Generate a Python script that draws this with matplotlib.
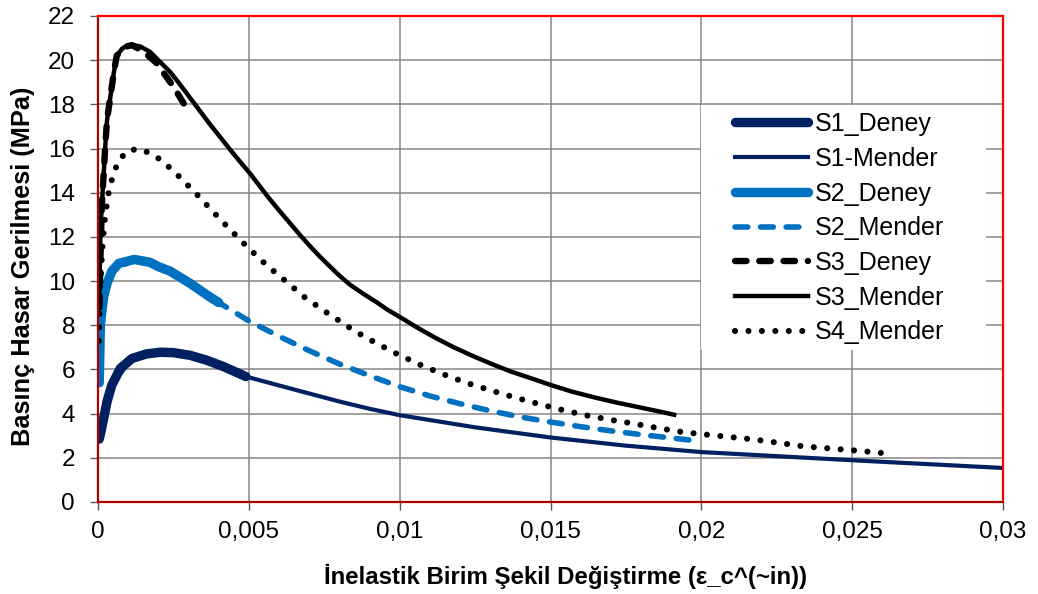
import numpy as np
import matplotlib
matplotlib.use('Agg')
import matplotlib.pyplot as plt
from matplotlib.patches import Rectangle
from matplotlib.ticker import FuncFormatter

plt.rcParams['font.family'] = ['Liberation Sans', 'DejaVu Sans']

# values
s1_deney_x = [0.00004, 0.0001, 0.00019, 0.0003, 0.00046, 0.00074, 0.00113, 0.0016,
              0.00206, 0.0025, 0.00305, 0.0036, 0.00416, 0.0049]
s1_deney_y = [2.85, 3.2, 3.8, 4.55, 5.3, 6.05, 6.5, 6.7, 6.78, 6.76, 6.64, 6.42, 6.13, 5.68]

s1_mender_x = [0.00004, 0.00019, 0.00046, 0.00113, 0.00206, 0.00305, 0.00416, 0.0049,
               0.00637, 0.008, 0.009, 0.01, 0.0125, 0.015, 0.0175, 0.02, 0.025, 0.03]
s1_mender_y = [2.85, 3.8, 5.3, 6.5, 6.78, 6.64, 6.13, 5.68, 5.14, 4.55, 4.22, 3.93, 3.38,
               2.92, 2.55, 2.26, 1.89, 1.54]

s2_deney_x = [0.00004, 0.00008, 0.00019, 0.0003, 0.00046, 0.00069, 0.0012, 0.00172,
              0.00201, 0.00239, 0.00305, 0.00371, 0.004]
s2_deney_y = [5.4, 8.1, 9.3, 9.9, 10.45, 10.8, 10.98, 10.85, 10.65, 10.45, 9.9, 9.28, 9.03]

s2_mender_x = [0.00004, 0.00019, 0.00046, 0.0012, 0.00201, 0.00305, 0.004, 0.005, 0.006,
               0.007, 0.008, 0.009, 0.01, 0.011, 0.012, 0.013, 0.014, 0.015, 0.016,
               0.017, 0.018, 0.019, 0.0199]
s2_mender_y = [5.4, 9.3, 10.45, 10.98, 10.65, 9.9, 9.03, 8.2, 7.5, 6.85, 6.25, 5.72, 5.22,
               4.8, 4.45, 4.13, 3.85, 3.62, 3.41, 3.22, 3.05, 2.9, 2.76]

s3_deney_x = [0.00005, 0.00008, 0.00013, 0.00019, 0.00024, 0.0003, 0.00041, 0.00052,
              0.00062, 0.0009, 0.00113, 0.0015, 0.00195, 0.0025, 0.00294]
s3_deney_y = [8.8, 11.0, 13.5, 14.9, 16.1, 17.3, 18.35, 19.4, 20.2, 20.6, 20.68, 20.4,
              19.86, 18.8, 17.82]

s3_mender_x = [0.00004, 0.00008, 0.00013, 0.00019, 0.00024, 0.0003, 0.00041, 0.00052,
               0.00062, 0.0008, 0.00098, 0.00113, 0.0014, 0.00172, 0.002, 0.00239,
               0.00272, 0.00305, 0.00338, 0.00371, 0.00405, 0.00438, 0.0047, 0.00504,
               0.00537, 0.0057, 0.00604, 0.00637, 0.0067, 0.00703, 0.00736, 0.00769,
               0.008, 0.00836, 0.0088, 0.00924, 0.0096, 0.01, 0.0106, 0.0112, 0.0118,
               0.01244, 0.0131, 0.0137, 0.0144, 0.015, 0.0157, 0.0165, 0.0172, 0.018,
               0.0186, 0.0191]
s3_mender_y = [9.0, 12.3, 13.5, 14.87, 16.08, 17.29, 18.34, 19.4, 20.2, 20.52, 20.68,
               20.7, 20.62, 20.38, 20.0, 19.47, 18.9, 18.3, 17.7, 17.1, 16.52, 15.95,
               15.42, 14.87, 14.28, 13.7, 13.14, 12.61, 12.08, 11.58, 11.1, 10.66,
               10.25, 9.83, 9.42, 9.04, 8.7, 8.38, 7.88, 7.42, 7.0, 6.6, 6.22, 5.9, 5.58,
               5.3, 5.0, 4.72, 4.5, 4.27, 4.1, 3.95]

s4_mender_x = [0.00003, 0.00007, 0.00016, 0.00024, 0.00035, 0.00044, 0.00055, 0.00074,
               0.00102, 0.0014, 0.00179, 0.00214, 0.00274, 0.0033, 0.00387, 0.00443,
               0.005, 0.00559, 0.00621, 0.00684, 0.0075, 0.00819, 0.00852, 0.00925,
               0.00996, 0.0107, 0.01145, 0.0122, 0.013, 0.0138, 0.01455, 0.01535,
               0.01615, 0.01695, 0.01775, 0.01855, 0.01935, 0.02016, 0.02175, 0.02339,
               0.02502, 0.02624]
s4_mender_y = [7.3, 9.7, 11.85, 13.0, 13.97, 14.49, 15.02, 15.55, 15.93, 15.97, 15.75,
               15.43, 14.67, 13.89, 13.06, 12.26, 11.48, 10.72, 10.01, 9.28, 8.65, 8.03,
               7.73, 7.17, 6.67, 6.2, 5.78, 5.4, 5.06, 4.74, 4.46, 4.18, 3.93, 3.73, 3.55,
               3.35, 3.17, 3.05, 2.83, 2.52, 2.34, 2.19]

x_ticks = [0, 0.005, 0.01, 0.015, 0.02, 0.025, 0.03]
y_ticks = [0, 2, 4, 6, 8, 10, 12, 14, 16, 18, 20, 22]

NAVY = '#002060'
BLUE = '#0070C0'

fig = plt.figure(figsize=(10.38, 5.94), dpi=100)
ax = fig.add_axes([98 / 1038, 1 - 502 / 594, 905 / 1038, 486 / 594])

ax.plot(s1_deney_x, s1_deney_y, color=NAVY, lw=6.8, solid_capstyle='round',
        solid_joinstyle='round', label='S1_Deney')
ax.plot(s1_mender_x, s1_mender_y, color=NAVY, lw=3, label='S1-Mender')
ax.plot(s2_deney_x, s2_deney_y, color=BLUE, lw=6.8, solid_capstyle='round',
        solid_joinstyle='round', label='S2_Deney')
ax.plot(s2_mender_x, s2_mender_y, color=BLUE, lw=4, dashes=(2.3, 2.3),
        dash_capstyle='round', label='S2_Mender')
ax.plot(s3_deney_x, s3_deney_y, color='black', lw=4.6, dashes=(1.8, 2.0),
        dash_capstyle='round', label='S3_Deney')
ax.plot(s3_mender_x, s3_mender_y, color='black', lw=3.2, label='S3_Mender')
ax.plot(s4_mender_x, s4_mender_y, color='black', lw=4.4, dashes=(0.001, 2.2),
        dash_capstyle='round', label='S4_Mender')

ax.set_xlim(0, 0.03)
ax.set_ylim(0, 22)
ax.set_xticks(x_ticks)
ax.set_yticks(y_ticks)
ax.xaxis.set_major_formatter(FuncFormatter(lambda v, p: f'{v:g}'.replace('.', ',')))

ax.set_axisbelow(True)
ax.grid(True, color='#868686', lw=1.1)
ax.tick_params(axis='both', direction='out', length=5.5, width=1, color='#595959',
               labelsize=17.5)
ax.tick_params(axis='x', pad=8)
ax.tick_params(axis='y', pad=11)

for side in ['top', 'right']:
    ax.spines[side].set_color('#FF0000')
for side in ['left', 'bottom']:
    ax.spines[side].set_color('#B00000')
for sp in ax.spines.values():
    sp.set_linewidth(1.6)
    sp.set_zorder(5)

ax.set_xlabel('İnelastik Birim Şekil Değiştirme (ε_c^(~in))', fontsize=17.3,
              fontweight='bold', va='center')
ax.set_ylabel('Basınç Hasar Gerilmesi (MPa)', fontsize=18.3, fontweight='bold',
              va='center')
ax.xaxis.set_label_coords((566 - 98) / 905, -(576 - 502) / 486)
ax.yaxis.set_label_coords(-(98 - 23) / 905, (502 - 266) / 486)

# white box behind the legend, covering the grid as in the original
ax.add_patch(Rectangle((701 / 1038, 1 - 350 / 594), 285 / 1038, 245 / 594,
                       transform=fig.transFigure, facecolor='white',
                       edgecolor='none', zorder=1.5))

leg = ax.legend(loc='upper left', bbox_to_anchor=(735 / 1038, 1 - 112 / 594),
                bbox_transform=fig.transFigure, frameon=False, fontsize=18,
                handlelength=2.9, handletextpad=0.3, labelspacing=0.43,
                borderpad=0, borderaxespad=0)
leg.set_zorder(10)

fig.savefig('out.png', dpi=100)
